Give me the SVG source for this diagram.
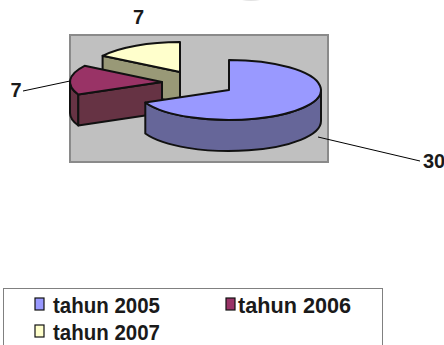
<svg xmlns="http://www.w3.org/2000/svg" width="444" height="345" viewBox="0 0 444 345">
<style>
.lbl{font-family:"Liberation Sans",Arial,sans-serif;font-weight:bold;font-size:20px;fill:#1a1a1a}
.leg{font-family:"Liberation Sans",Arial,sans-serif;font-weight:bold;font-size:22px;fill:#1a1a1a}
.pie{stroke:#111;stroke-width:2;stroke-linejoin:round}
.lead{stroke:#000;stroke-width:1;fill:none}
.sw{stroke:#111;stroke-width:1.2}
</style>
<rect width="444" height="345" fill="#fff"/>
<ellipse cx="251" cy="-4" rx="15" ry="5" fill="#e2e2e2"/>
<g id="plot-area">
<rect x="70" y="35" width="258" height="127" fill="#c0c0c0" stroke="#8a8a8a" stroke-width="2"/>
</g>
<g id="slice-2007">
<path class="pie" fill="#999977" d="M180,72 L102.6,55.8 L102.6,86.8 L180,103 Z"/>
<path class="pie" fill="#ffffcc" d="M180,72 L102.6,55.8 A92,30 0 0 1 180,42 Z"/>
</g>
<g id="slice-2006">
<path class="pie" fill="#663344" d="M78.3,94.5 A92,30 0 0 1 70,82 L70,113 A92,30 0 0 0 78.3,125.5 Z"/>
<path class="pie" fill="#663344" d="M162,82 L78.3,94.5 L78.3,125.5 L162,113 Z"/>
<path class="pie" fill="#993366" d="M162,82 L78.3,94.5 A92,30 0 0 1 84.6,65.8 Z"/>
</g>
<g id="slice-2005">
<path class="pie" fill="#666699" d="M321,90 A92,30 0 0 1 145.3,102.5 L145.3,133.5 A92,30 0 0 0 321,121 Z"/>
<path class="pie" fill="#9999ff" d="M229,90 L229,60 A92,30 0 1 1 145.3,102.5 Z"/>
</g>
<g id="connectors">
<line class="lead" x1="23" y1="91" x2="70" y2="81"/>
<line class="lead" x1="318" y1="137" x2="420" y2="161"/>
</g>
<g id="label-2007"><text class="lbl" x="138.5" y="24" text-anchor="middle">7</text></g>
<g id="label-2006"><text class="lbl" x="10.5" y="97">7</text></g>
<g id="label-2005"><text class="lbl" x="423" y="168">30</text></g>
<g id="legend">
<rect x="3.5" y="288.5" width="379" height="70" fill="#fff" stroke="#808080" stroke-width="1"/>
<rect class="sw" x="35" y="298" width="9" height="12" fill="#9999ff"/>
<text class="leg" x="53" y="313" textLength="107" lengthAdjust="spacingAndGlyphs">tahun 2005</text>
<rect class="sw" x="226" y="298" width="9" height="12" fill="#993366"/>
<text class="leg" x="238" y="313" textLength="113" lengthAdjust="spacingAndGlyphs">tahun 2006</text>
<rect class="sw" x="35" y="325" width="9" height="12" fill="#ffffcc"/>
<text class="leg" x="53" y="340" textLength="107" lengthAdjust="spacingAndGlyphs">tahun 2007</text>
</g>
</svg>
